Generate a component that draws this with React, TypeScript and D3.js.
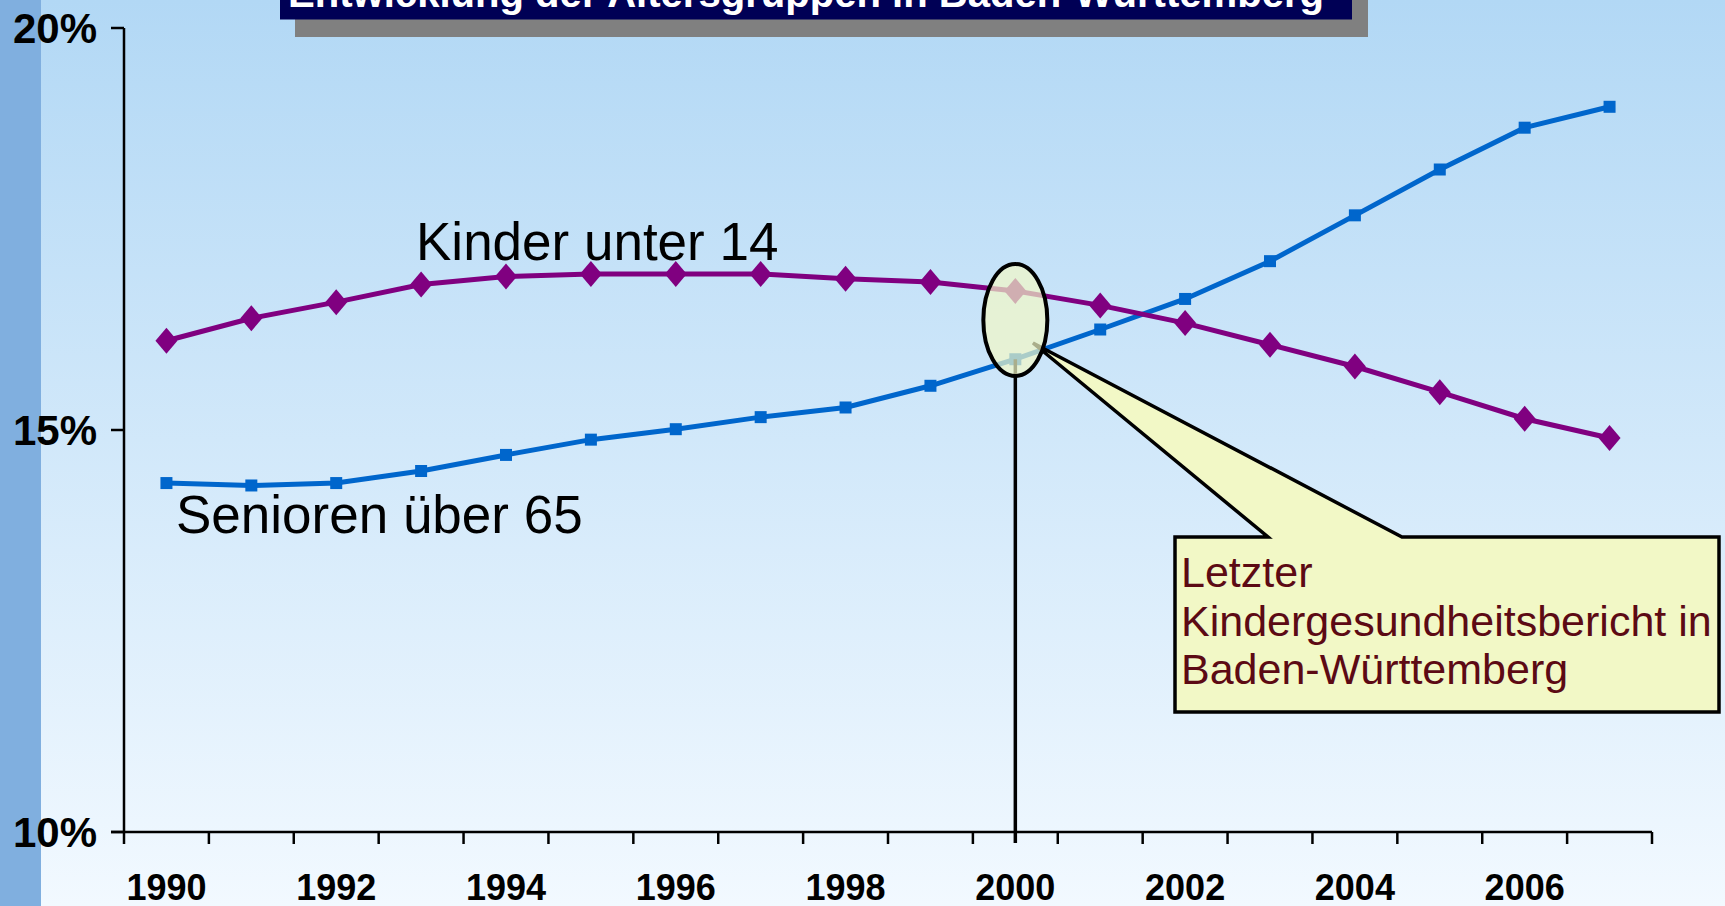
import { useEffect, useRef } from "react";
import * as d3 from "d3";

const years = [1990, 1991, 1992, 1993, 1994, 1995, 1996, 1997, 1998, 1999, 2000, 2001, 2002, 2003, 2004, 2005, 2006, 2007];
const kinder = [16.11, 16.39, 16.59, 16.81, 16.91, 16.94, 16.94, 16.94, 16.88, 16.84, 16.73, 16.55, 16.33, 16.06, 15.79, 15.47, 15.14, 14.9];
const senioren = [14.34, 14.31, 14.34, 14.49, 14.69, 14.88, 15.01, 15.16, 15.28, 15.55, 15.88, 16.25, 16.63, 17.1, 17.67, 18.24, 18.76, 19.02];
const yTicks = [10, 15, 20];
const xLabelYears = [1990, 1992, 1994, 1996, 1998, 2000, 2002, 2004, 2006];
const title = "Entwicklung der Altersgruppen in Baden-Württemberg";
const calloutLines = ["Letzter", "Kindergesundheitsbericht in", "Baden-Württemberg"];
const markYear = 2000;

const W = 1725;
const H = 906;

function Chart() {
  const svgRef = useRef<SVGSVGElement | null>(null);

  useEffect(() => {
    if (!svgRef.current) return;
    const svg = d3.select(svgRef.current);
    svg.selectAll("*").remove();

    const x = d3.scaleBand<number>().domain(years).range([124, 1652]);
    const y = d3.scaleLinear().domain([10, 20]).range([832, 28]);
    const cx = (yr: number) => x(yr)! + x.bandwidth() / 2;

    // background
    const defs = svg.append("defs");
    const grad = defs.append("linearGradient").attr("id", "bg").attr("x1", 0).attr("y1", 0).attr("x2", 0).attr("y2", 1);
    grad.append("stop").attr("offset", "0%").attr("stop-color", "#B2D8F5");
    grad.append("stop").attr("offset", "100%").attr("stop-color", "#F2F9FF");
    svg.append("rect").attr("width", W).attr("height", H).attr("fill", "url(#bg)");
    svg.append("rect").attr("width", 41).attr("height", H).attr("fill", "#80AFDF");

    // title box (cut off at top)
    svg.append("rect").attr("x", 295).attr("y", -23).attr("width", 1073).attr("height", 60).attr("fill", "#808080");
    svg.append("rect").attr("x", 280).attr("y", -40).attr("width", 1072).attr("height", 59.5).attr("fill", "#000055");
    svg.append("text")
      .attr("x", 288).attr("y", 7)
      .attr("textLength", 1036).attr("lengthAdjust", "spacingAndGlyphs")
      .attr("fill", "#fff").attr("font-family", "'Liberation Sans', Arial, sans-serif")
      .attr("font-weight", "bold").attr("font-size", 40)
      .text(title);

    // axes
    const axes = svg.append("g").attr("stroke", "#000").attr("stroke-width", 2.5);
    axes.append("line").attr("x1", 124).attr("x2", 124).attr("y1", y(20)).attr("y2", y(10));
    axes.append("line").attr("x1", 111).attr("x2", 1652).attr("y1", y(10)).attr("y2", y(10));
    axes.selectAll(".yt").data(yTicks).enter().append("line")
      .attr("x1", 111).attr("x2", 124).attr("y1", (d) => y(d)).attr("y2", (d) => y(d));
    const xt = years.map((yr) => x(yr)!).concat([x.range()[1]]);
    axes.selectAll(".xt").data(xt).enter().append("line")
      .attr("x1", (d) => d).attr("x2", (d) => d).attr("y1", y(10)).attr("y2", y(10) + 12);

    svg.selectAll(".ylab").data(yTicks).enter().append("text")
      .attr("x", 97).attr("y", (d) => y(d) + 15)
      .attr("text-anchor", "end")
      .attr("font-family", "'Liberation Sans', Arial, sans-serif")
      .attr("font-weight", "bold").attr("font-size", 42)
      .text((d) => `${d}%`);

    svg.selectAll(".xlab").data(xLabelYears).enter().append("text")
      .attr("x", (d) => cx(d)).attr("y", 900)
      .attr("text-anchor", "middle")
      .attr("font-family", "'Liberation Sans', Arial, sans-serif")
      .attr("font-weight", "bold").attr("font-size", 36)
      .text((d) => d);

    // series
    const line = d3.line<number>().x((_, i) => cx(years[i])).y((d) => y(d));
    svg.append("path").attr("d", line(senioren)).attr("fill", "none").attr("stroke", "#0066CC").attr("stroke-width", 5);
    svg.append("path").attr("d", line(kinder)).attr("fill", "none").attr("stroke", "#800080").attr("stroke-width", 5);

    svg.selectAll(".sq").data(senioren).enter().append("rect")
      .attr("x", (_, i) => cx(years[i]) - 6).attr("y", (d) => y(d) - 6)
      .attr("width", 12).attr("height", 12).attr("fill", "#0066CC");
    svg.selectAll(".dia").data(kinder).enter().append("path")
      .attr("d", (d, i) => {
        const px = cx(years[i]);
        const py = y(d);
        return `M${px},${py - 13}L${px + 11},${py}L${px},${py + 13}L${px - 11},${py}Z`;
      })
      .attr("fill", "#800080");

    // marker line at 2000
    const mi = years.indexOf(markYear);
    const mx = cx(markYear);
    svg.append("line").attr("x1", mx).attr("x2", mx).attr("y1", y(senioren[mi])).attr("y2", 843)
      .attr("stroke", "#000").attr("stroke-width", 3.5);

    // callout
    const bx0 = 1175, bx1 = 1719, by0 = 537, by1 = 712;
    const tipX = 1033, tipY = 343;
    svg.append("path")
      .attr("d", `M${bx0},${by0}L1268,${by0}L${tipX},${tipY}L1402,${by0}L${bx1},${by0}L${bx1},${by1}L${bx0},${by1}Z`)
      .attr("fill", "#F2F8C6").attr("stroke", "#000").attr("stroke-width", 3.5).attr("stroke-linejoin", "miter");
    svg.selectAll(".cl").data(calloutLines).enter().append("text")
      .attr("x", 1181).attr("y", (_, i) => 587 + i * 48.5)
      .attr("fill", "#5C0A14")
      .attr("font-family", "'Liberation Sans', Arial, sans-serif").attr("font-size", 43)
      .text((d) => d);

    // ellipse highlight
    svg.append("ellipse").attr("cx", mx).attr("cy", 320).attr("rx", 32).attr("ry", 56)
      .attr("fill", "rgba(242,248,198,0.7)").attr("stroke", "#000").attr("stroke-width", 4);

    // series labels
    svg.append("text").attr("x", 416).attr("y", 260)
      .attr("font-family", "'Liberation Sans', Arial, sans-serif").attr("font-size", 53)
      .text("Kinder unter 14");
    svg.append("text").attr("x", 176).attr("y", 533)
      .attr("font-family", "'Liberation Sans', Arial, sans-serif").attr("font-size", 53)
      .text("Senioren über 65");

    return () => {
      svg.selectAll("*").remove();
    };
  }, []);

  return <svg ref={svgRef} width={W} height={H} style={{ position: "absolute", left: 0, top: 0, display: "block" }}></svg>;
}

export default function App() {
  return <Chart />;
}
